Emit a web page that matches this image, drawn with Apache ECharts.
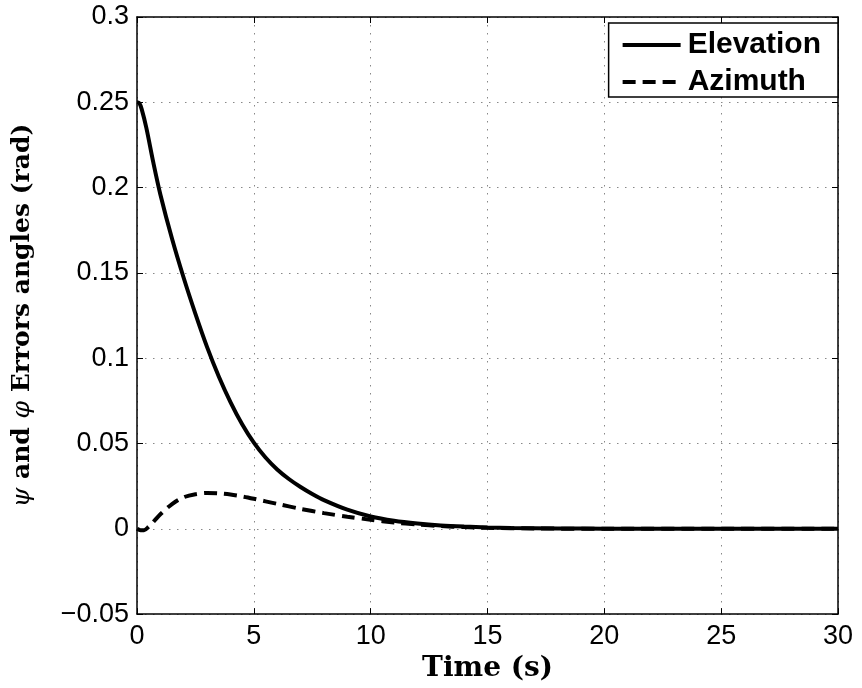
<!DOCTYPE html>
<html>
<head>
<meta charset="utf-8">
<script src="https://cdn.jsdelivr.net/npm/echarts@6/dist/echarts.min.js"></script>
<style>
  html, body { margin: 0; padding: 0; background: #fff; }
  #chart { width: 862px; height: 688px; }
</style>
</head>
<body>
<div id="chart"></div>
<script>
// time samples (s) for the elevation curve
const elevT = [0, 0.1, 0.2, 0.4, 0.7, 1, 1.5, 2, 2.5, 3, 3.5, 4, 4.5, 5, 5.5, 6, 6.5, 7, 7.5, 8, 9, 10, 11, 12, 13, 14, 15, 16, 18, 20, 25, 30];
// elevation error (rad)
const elevation = [0.25, 0.2495, 0.246, 0.235, 0.2146, 0.196, 0.170, 0.147, 0.126, 0.1065, 0.0893, 0.0743, 0.0613, 0.0505, 0.0418, 0.0348, 0.0292, 0.0245, 0.0204, 0.0168, 0.0112, 0.0072, 0.0047, 0.0031, 0.002, 0.0013, 0.0008, 0.0005, 0.0002, 0.0001, 0, 0];
// time samples (s) for the azimuth curve
const azimT = [0, 0.15, 0.3, 0.5, 0.75, 1, 1.5, 2, 2.5, 3, 3.5, 4, 4.5, 5, 6, 7, 8, 9, 10, 11, 12, 13, 14, 15, 17, 20, 25, 30];
// azimuth error (rad)
const azimuth = [0, -0.0008, -0.0008, 0.0012, 0.0048, 0.0085, 0.0145, 0.0185, 0.0203, 0.021, 0.0208, 0.0201, 0.019, 0.0176, 0.0146, 0.0117, 0.0092, 0.0071, 0.0053, 0.0037, 0.0025, 0.0016, 0.001, 0.0006, 0.0002, 0, 0, 0];

const pairs = (xs, ys) => xs.map((x, i) => [x, ys[i]]);

const chart = echarts.init(document.getElementById('chart'));
const axisLine = { show: true, onZero: false, lineStyle: { color: '#000', width: 1.5 } };
const tick = { inside: true, length: 6, lineStyle: { color: '#000' } };
const grid = { type: [1.5, 6.5], color: '#888', width: 1 };

chart.setOption({
  animation: false,
  grid: { left: 137, right: 24, top: 17, bottom: 72 },
  legend: {
    orient: 'vertical',
    right: 24,
    top: 23,
    padding: [7, 17, 0, 12],
    itemGap: 7,
    itemWidth: 58,
    itemHeight: 2,
    itemStyle: { opacity: 0 },
    lineStyle: { width: 4 },
    backgroundColor: '#fff',
    borderColor: '#000',
    borderWidth: 1.5,
    textStyle: { fontFamily: 'Liberation Sans', fontWeight: 'bold', fontSize: 30, color: '#000', padding: [0, 0, 0, 2] },
    data: ['Elevation', 'Azimuth']
  },
  xAxis: [{
    type: 'value',
    min: 0, max: 30, interval: 5,
    name: 'Time (s)',
    nameLocation: 'middle',
    nameGap: 35,
    nameTextStyle: { fontFamily: 'DejaVu Serif', fontWeight: 'bold', fontSize: 28, color: '#000' },
    axisLine,
    axisTick: tick,
    axisLabel: { fontFamily: 'Liberation Sans', fontSize: 27, color: '#000', margin: 9 },
    splitLine: { show: true, lineStyle: grid }
  }, {
    type: 'value', position: 'top',
    min: 0, max: 30, interval: 5,
    axisLine,
    axisTick: tick,
    axisLabel: { show: false },
    splitLine: { show: false }
  }],
  yAxis: [{
    type: 'value',
    min: -0.05, max: 0.3, interval: 0.05,
    name: '{i|ψ} and {i|φ} Errors angles (rad)',
    nameLocation: 'middle',
    nameGap: 102,
    nameTextStyle: {
      fontFamily: 'DejaVu Serif', fontWeight: 'bold', fontSize: 25, color: '#000',
      rich: { i: { fontFamily: 'DejaVu Serif', fontStyle: 'italic', fontWeight: 'normal', fontSize: 25, color: '#000' } }
    },
    axisLine,
    axisTick: tick,
    axisLabel: {
      fontFamily: 'Liberation Sans', fontSize: 27, color: '#000', margin: 8,
      formatter: v => {
        const r = parseFloat(v.toFixed(2));
        return r < 0 ? '\u2212' + String(-r) : String(r);
      }
    },
    splitLine: { show: true, lineStyle: grid }
  }, {
    type: 'value', position: 'right',
    min: -0.05, max: 0.3, interval: 0.05,
    axisLine,
    axisTick: tick,
    axisLabel: { show: false },
    splitLine: { show: false }
  }],
  series: [{
    name: 'Elevation',
    type: 'line',
    smooth: 0.3,
    symbol: 'none',
    lineStyle: { color: '#000', width: 4 },
    itemStyle: { color: '#000' },
    data: pairs(elevT, elevation),
    z: 3
  }, {
    name: 'Azimuth',
    type: 'line',
    smooth: 0.3,
    symbol: 'none',
    lineStyle: { color: '#000', width: 4, type: [13, 7] },
    itemStyle: { color: '#000' },
    data: pairs(azimT, azimuth),
    z: 4
  }]
});
</script>
</body>
</html>
